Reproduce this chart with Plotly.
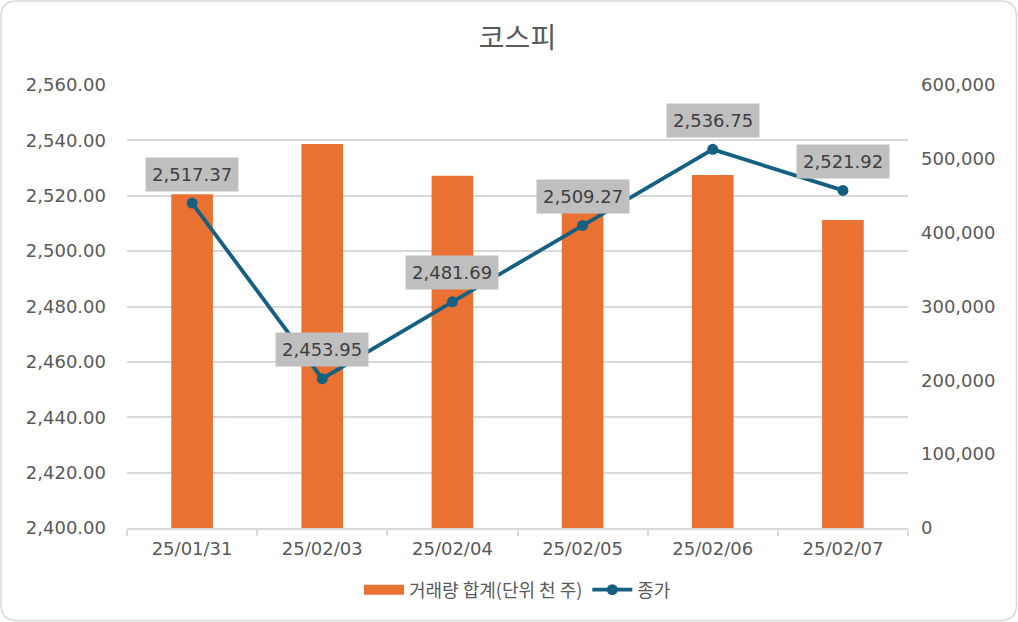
import plotly.graph_objects as go

dates = ["25/01/31", "25/02/03", "25/02/04", "25/02/05", "25/02/06", "25/02/07"]
volume = [452000, 520000, 477000, 445000, 478000, 417000]
close = [2517.37, 2453.95, 2481.69, 2509.27, 2536.75, 2521.92]

W, H = 1018, 622
ML, MR, MT, MB = 127, 110, 85, 94

NUM_FONT = "DejaVu Sans, Noto Sans CJK KR, sans-serif"
KR_FONT = "Noto Sans CJK KR, DejaVu Sans, sans-serif"
GREY_TXT = "#595959"
GRID = "#D9D9D9"
ORANGE = "#E97132"
BLUE = "#156082"

fig = go.Figure()
fig.add_trace(go.Bar(
    x=dates, y=volume, name="거래량 합계(단위 천 주)",
    marker=dict(color=ORANGE, line=dict(width=0)),
    width=0.32, yaxis="y", showlegend=False,
))
# legend-only entry giving the wide rectangle swatch
fig.add_trace(go.Scatter(
    x=[None], y=[None], name="거래량 합계(단위 천 주)", mode="lines",
    line=dict(color=ORANGE, width=12), yaxis="y", hoverinfo="skip",
))
fig.add_trace(go.Scatter(
    x=dates, y=close, name="종가", mode="lines+markers",
    line=dict(color=BLUE, width=3.8),
    marker=dict(color=BLUE, size=11),
    yaxis="y2",
))

for d, v in zip(dates, close):
    fig.add_annotation(
        x=d, y=v, xref="x", yref="y2", text=f"{v:,.2f}",
        showarrow=False, yshift=29, bgcolor="#BFBFBF", borderpad=6,
        font=dict(family=NUM_FONT, size=18, color="#404040"),
    )

# rounded border around the whole chart (paper coordinates)
pw, ph = W - ML - MR, H - MT - MB
def px(xp):
    return (xp - ML) / pw
def py(yp):
    return (H - MB - yp) / ph
r = 16
x0, x1, y0, y1 = 1, W - 1.5, 1, H - 1.5
path = (
    f"M {px(x0 + r)},{py(y0)} L {px(x1 - r)},{py(y0)} "
    f"Q {px(x1)},{py(y0)} {px(x1)},{py(y0 + r)} "
    f"L {px(x1)},{py(y1 - r)} Q {px(x1)},{py(y1)} {px(x1 - r)},{py(y1)} "
    f"L {px(x0 + r)},{py(y1)} Q {px(x0)},{py(y1)} {px(x0)},{py(y1 - r)} "
    f"L {px(x0)},{py(y0 + r)} Q {px(x0)},{py(y0)} {px(x0 + r)},{py(y0)} Z"
)
fig.add_shape(type="path", path=path, xref="paper", yref="paper",
              line=dict(color="#D9D9D9", width=1.5), layer="below")

fig.update_layout(
    width=W, height=H,
    margin=dict(l=ML, r=MR, t=MT, b=MB, autoexpand=False),
    paper_bgcolor="white", plot_bgcolor="white",
    title=dict(text="코스피", x=0.5, xanchor="center", xref="paper",
               y=1 - 38 / H, yanchor="middle", yref="container",
               font=dict(family=KR_FONT, size=28, color=GREY_TXT)),
    showlegend=True,
    legend=dict(orientation="h", x=0.5, xanchor="center", xref="paper",
                y=(H - 590) / H, yanchor="middle", yref="container",
                font=dict(family=KR_FONT, size=18, color=GREY_TXT),
                itemwidth=40, traceorder="normal", itemclick=False),
    xaxis=dict(
        type="category", showgrid=False, showline=True, linecolor=GRID, linewidth=1.5,
        ticks="outside", tickson="boundaries", ticklen=6, tickcolor=GRID, tickwidth=1.5,
        ticklabelstandoff=4,
        tickfont=dict(family=NUM_FONT, size=18, color=GREY_TXT),
    ),
    yaxis=dict(
        side="right", range=[0, 600000], dtick=100000, tickformat=",.0f",
        showgrid=False, zeroline=False, showline=False, ticks="",
        ticklabelstandoff=12,
        tickfont=dict(family=NUM_FONT, size=18, color=GREY_TXT),
    ),
    yaxis2=dict(
        side="left", overlaying="y", range=[2400, 2560], dtick=20, tickformat=",.2f",
        showgrid=True, gridcolor=GRID, gridwidth=1.5, zeroline=False, showline=False,
        ticks="", ticklabelstandoff=20,
        tickfont=dict(family=NUM_FONT, size=18, color=GREY_TXT),
    ),
    bargap=0.68,
)

fig.write_html("out.html", config={"displayModeBar": False},
               post_script="document.body.style.margin='0';")
